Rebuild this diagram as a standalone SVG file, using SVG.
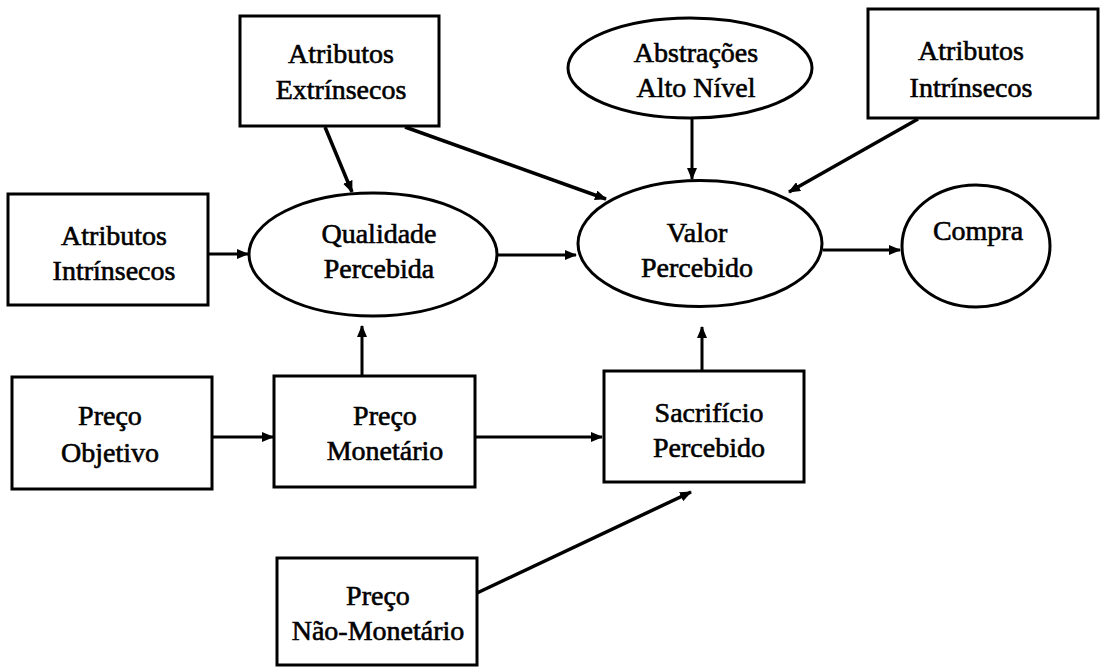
<svg xmlns="http://www.w3.org/2000/svg" width="1107" height="668" viewBox="0 0 1107 668">
<defs>
<style>
.b{fill:#fff;stroke:#000;stroke-width:3}
.t{font-family:"Liberation Serif","Times New Roman",serif;font-size:28px;fill:#000;stroke:#000;stroke-width:0.6;text-anchor:middle}
.c{stroke:#000;stroke-width:3;fill:none;marker-end:url(#ah)}
.c4{stroke:#000;stroke-width:3.5;fill:none;marker-end:url(#ah)}
</style>
<marker id="ah" viewBox="0 0 12 10" refX="11" refY="5" markerWidth="12" markerHeight="10" markerUnits="userSpaceOnUse" orient="auto">
<path d="M0,0 L12,5 L0,10 Z" fill="#000"/>
</marker>
</defs>
<rect width="1107" height="668" fill="#fff"/>
<g id="connectors">
<line class="c" x1="208" y1="254" x2="248" y2="254"/>
<line class="c4" x1="325" y1="127" x2="352" y2="192"/>
<line class="c4" x1="405" y1="127" x2="606" y2="199"/>
<line class="c" x1="692" y1="119" x2="692" y2="179"/>
<line class="c4" x1="918" y1="119" x2="789" y2="192"/>
<line class="c" x1="497" y1="255" x2="576" y2="255"/>
<line class="c" x1="823" y1="250" x2="900" y2="250"/>
<line class="c" x1="212" y1="437" x2="273" y2="437"/>
<line class="c" x1="362" y1="376" x2="362" y2="326"/>
<line class="c" x1="475" y1="437" x2="602" y2="437"/>
<line class="c" x1="702" y1="371" x2="702" y2="327"/>
<line class="c4" x1="477" y1="593" x2="691" y2="492"/>
</g>
<g id="ext">
<rect class="b" x="240" y="16" width="199" height="110"/>
<text class="t" x="341" y="63">Atributos</text>
<text class="t" x="341" y="99">Extrínsecos</text>
</g>
<g id="abstracoes">
<ellipse class="b" cx="690" cy="68" rx="122" ry="50"/>
<text class="t" x="696" y="62">Abstrações</text>
<text class="t" x="696" y="97">Alto Nível</text>
</g>
<g id="int-right">
<rect class="b" x="868" y="9" width="230" height="109"/>
<text class="t" x="971" y="60">Atributos</text>
<text class="t" x="971" y="97">Intrínsecos</text>
</g>
<g id="int-left">
<rect class="b" x="8" y="194" width="200" height="111"/>
<text class="t" x="114" y="245">Atributos</text>
<text class="t" x="114" y="280">Intrínsecos</text>
</g>
<g id="qualidade">
<ellipse class="b" cx="373" cy="254.5" rx="124" ry="61.5"/>
<text class="t" x="379" y="243">Qualidade</text>
<text class="t" x="379" y="278">Percebida</text>
</g>
<g id="valor">
<ellipse class="b" cx="700" cy="243.5" rx="122" ry="63"/>
<text class="t" x="697" y="242">Valor</text>
<text class="t" x="697" y="277">Percebido</text>
</g>
<g id="compra">
<ellipse class="b" cx="976" cy="246" rx="74" ry="61"/>
<text class="t" x="978" y="240">Compra</text>
</g>
<g id="preco-objetivo">
<rect class="b" x="12" y="377" width="200" height="112"/>
<text class="t" x="110" y="425">Preço</text>
<text class="t" x="110" y="462">Objetivo</text>
</g>
<g id="preco-monetario">
<rect class="b" x="274" y="376" width="201" height="111"/>
<text class="t" x="385" y="425">Preço</text>
<text class="t" x="385" y="460">Monetário</text>
</g>
<g id="sacrificio">
<rect class="b" x="604" y="371" width="200" height="111"/>
<text class="t" x="709" y="422">Sacrifício</text>
<text class="t" x="709" y="457">Percebido</text>
</g>
<g id="preco-nao-monetario">
<rect class="b" x="277" y="558" width="200" height="107"/>
<text class="t" x="378" y="605">Preço</text>
<text class="t" x="378" y="640">Não-Monetário</text>
</g>
</svg>
